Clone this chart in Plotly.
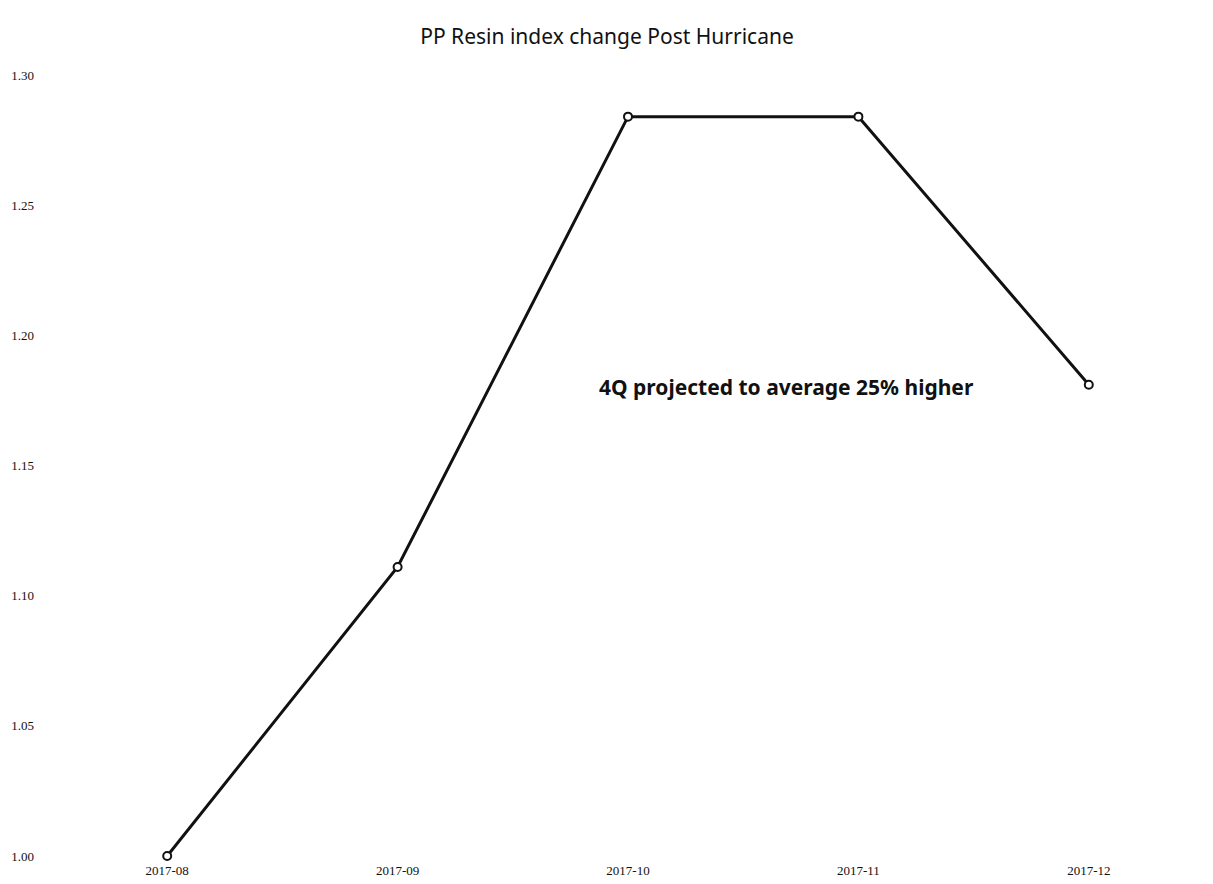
import plotly.graph_objects as go

months = ["2017-08", "2017-09", "2017-10", "2017-11", "2017-12"]
index_values = [1.000, 1.111, 1.284, 1.284, 1.181]
y_ticks = [1.00, 1.05, 1.10, 1.15, 1.20, 1.25, 1.30]
y_tick_labels = ["1.00", "1.05", "1.10", "1.15", "1.20", "1.25", "1.30"]

fig = go.Figure()
fig.add_trace(go.Scatter(
    x=months, y=index_values, mode="lines+markers",
    line=dict(color="#111111", width=3),
    marker=dict(symbol="circle", size=8, color="white",
                line=dict(color="#111111", width=2)),
    cliponaxis=False, showlegend=False,
))

fig.update_layout(
    width=1213, height=884,
    margin=dict(l=52, r=9, t=75, b=28),
    paper_bgcolor="white", plot_bgcolor="white",
    title=dict(text="PP Resin index change Post Hurricane",
               x=(418 + 796) / 2 / 1213, xanchor="center", y=1 - 37 / 884, yanchor="middle",
               font=dict(family="Noto Sans", size=21, color="#111111")),
    xaxis=dict(type="category", range=[-0.5, 4.5], showgrid=False,
               zeroline=False, showline=False, ticks="", automargin=False,
               ticklabelstandoff=5,
               tickfont=dict(family="Liberation Serif", size=13, color="#111111")),
    yaxis=dict(range=[1.0, 1.3], tickvals=y_ticks, ticktext=y_tick_labels,
               showgrid=False, zeroline=False, showline=False, ticks="", automargin=False,
               ticklabelstandoff=17,
               tickfont=dict(family="Liberation Serif", size=13, color="#111111")),
    annotations=[dict(
        text="<b>4Q projected to average 25% higher</b>",
        xref="paper", yref="paper", x=(786 - 52) / 1152, y=(856 - 387) / 781,
        xanchor="center", yanchor="middle", showarrow=False,
        font=dict(family="Noto Sans", size=21, color="#111111"),
    )],
)

fig.write_html("out.html")
